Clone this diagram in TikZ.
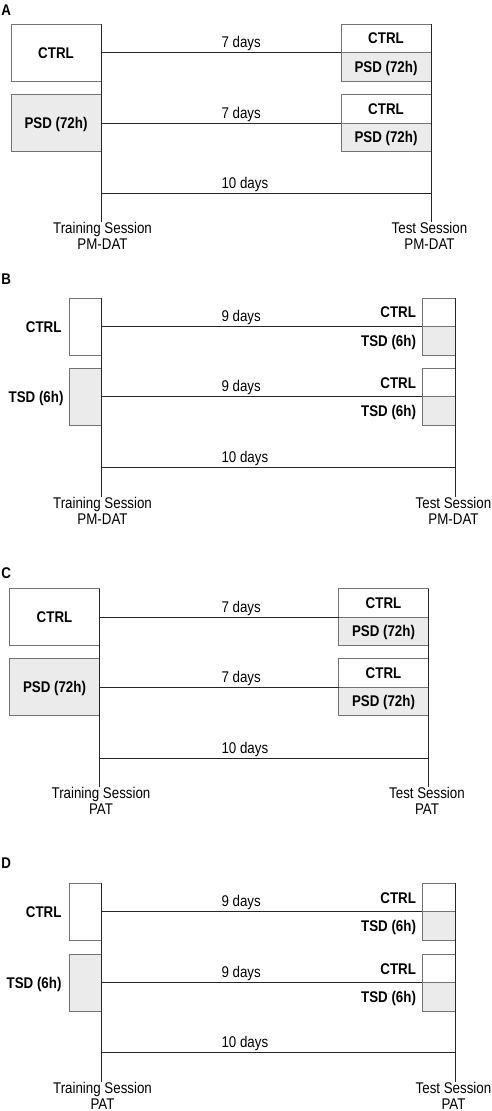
\documentclass[tikz,border=0pt]{standalone}
\usepackage{fontspec}
\setmainfont{Liberation Sans}[FakeStretch=0.86]
\usepackage{xcolor}
\usepackage{tikz}
\usetikzlibrary{positioning}
\newcommand\figfont{\fontsize{15.5pt}{16pt}\selectfont}

\begin{document}
\begin{tikzpicture}[x=1pt, y=-1pt, line width=1pt,
    box/.style={draw=black!55, inner sep=0pt, outer sep=0pt, text height=11pt, text depth=0pt, font=\figfont\bfseries},
    psd/.style={box, fill=black!8},
    wide/.style={minimum width=90pt, minimum height=57pt},
    half/.style={minimum width=90pt, minimum height=28.5pt},
    narrow/.style={minimum width=32pt, minimum height=57pt},
    slim/.style={minimum width=33pt, minimum height=28.5pt},
    grp/.style={inner sep=0pt, text height=11pt, text depth=0pt, font=\figfont\bfseries},
    panel/.style={grp, anchor=west},
    link/.style={draw=black!85},
    days/.style={inner sep=0pt, anchor=base west, font=\figfont},
    session/.style={inner sep=0pt, align=center, anchor=north, font=\figfont}]
    \useasboundingbox (0,0) rectangle (492,1111);
    \node[panel] (labA) at (1,9.5) {A};
    \node[box, wide, anchor=north west] (ctrlA) at (11,24) {CTRL};
    \node[psd, wide, anchor=north west] (psdA) at (11,94.5) {PSD (72h)};
    \node[box, half, anchor=north west] (ctrlA1) at (341,24) {CTRL};
    \node[psd, half, below=0pt of ctrlA1] (psdA1) {PSD (72h)};
    \node[box, half, anchor=north west] (ctrlA2) at (341,94.5) {CTRL};
    \node[psd, half, below=0pt of ctrlA2] (psdA2) {PSD (72h)};
    \node[session] (trainA) at (102.5,222) {Training Session\\PM-DAT};
    \node[session] (testA) at (429.5,222) {Test Session\\PM-DAT};
    \coordinate (tenA) at (101,193);
    \draw[link] (ctrlA.north east) -- (ctrlA.north east |- trainA.north);
    \draw[link] (ctrlA1.north east) -- (ctrlA1.north east |- testA.north);
    \draw[link] (ctrlA.east) -- (psdA1.north west);
    \draw[link] (psdA.east) -- (psdA2.north west);
    \draw[link] (tenA) -- (tenA -| ctrlA1.east);
    \node[days] (dayA1) at (221,47.5) {7 days};
    \node[days] (dayA2) at (221,118) {7 days};
    \node[days] (dayA3) at (221,188) {10 days};
    \node[panel] (labB) at (1,278.5) {B};
    \node[box, narrow, anchor=north west] (ctrlB) at (69,298) {};
    \node[psd, narrow, anchor=north west] (tsdB) at (69,368.3) {};
    \node[grp, left=7pt of ctrlB] (ctrlBt) {CTRL};
    \node[grp, left=5pt of tsdB] (tsdBt) {TSD (6h)};
    \node[box, slim, anchor=north west] (ctrlB1) at (422,298) {};
    \node[psd, slim, below=0pt of ctrlB1] (tsdB1) {};
    \node[box, slim, anchor=north west] (ctrlB2) at (422,368.3) {};
    \node[psd, slim, below=0pt of ctrlB2] (tsdB2) {};
    \node[grp, left=5.5pt of ctrlB1] (ctrlB1t) {CTRL};
    \node[grp, left=5.5pt of tsdB1] (tsdB1t) {TSD (6h)};
    \node[grp, left=5.5pt of ctrlB2] (ctrlB2t) {CTRL};
    \node[grp, left=5.5pt of tsdB2] (tsdB2t) {TSD (6h)};
    \node[session] (trainB) at (102.5,496.5) {Training Session\\PM-DAT};
    \node[session] (testB) at (453.5,496.5) {Test Session\\PM-DAT};
    \coordinate (tenB) at (101,467.3);
    \draw[link] (ctrlB.north east) -- (ctrlB.north east |- trainB.north);
    \draw[link] (ctrlB1.north east) -- (ctrlB1.north east |- testB.north);
    \draw[link] (ctrlB.east) -- (tsdB1.north west);
    \draw[link] (tsdB.east) -- (tsdB2.north west);
    \draw[link] (tenB) -- (tenB -| ctrlB1.east);
    \node[days] (dayB1) at (221,321.5) {9 days};
    \node[days] (dayB2) at (221,391.8) {9 days};
    \node[days] (dayB3) at (221,462.3) {10 days};
    \node[panel] (labC) at (1,572.5) {C};
    \node[box, wide, anchor=north west] (ctrlC) at (9.5,588.5) {CTRL};
    \node[psd, wide, anchor=north west] (psdC) at (9.5,658.5) {PSD (72h)};
    \node[box, half, anchor=north west] (ctrlC1) at (338.5,588.5) {CTRL};
    \node[psd, half, below=0pt of ctrlC1] (psdC1) {PSD (72h)};
    \node[box, half, anchor=north west] (ctrlC2) at (338.5,658.5) {CTRL};
    \node[psd, half, below=0pt of ctrlC2] (psdC2) {PSD (72h)};
    \node[session] (trainC) at (101,787) {Training Session\\PAT};
    \node[session] (testC) at (427,787) {Test Session\\PAT};
    \coordinate (tenC) at (99.5,758);
    \draw[link] (ctrlC.north east) -- (ctrlC.north east |- trainC.north);
    \draw[link] (ctrlC1.north east) -- (ctrlC1.north east |- testC.north);
    \draw[link] (ctrlC.east) -- (psdC1.north west);
    \draw[link] (psdC.east) -- (psdC2.north west);
    \draw[link] (tenC) -- (tenC -| ctrlC1.east);
    \node[days] (dayC1) at (221,612) {7 days};
    \node[days] (dayC2) at (221,682) {7 days};
    \node[days] (dayC3) at (221,753) {10 days};
    \node[panel] (labD) at (1,863) {D};
    \node[box, narrow, anchor=north west] (ctrlD) at (69,883.3) {};
    \node[psd, narrow, anchor=north west] (tsdD) at (69,954.3) {};
    \node[grp, left=7pt of ctrlD] (ctrlDt) {CTRL};
    \node[grp, left=7pt of tsdD] (tsdDt) {TSD (6h)};
    \node[box, slim, anchor=north west] (ctrlD1) at (422,883.3) {};
    \node[psd, slim, below=0pt of ctrlD1] (tsdD1) {};
    \node[box, slim, anchor=north west] (ctrlD2) at (422,954.3) {};
    \node[psd, slim, below=0pt of ctrlD2] (tsdD2) {};
    \node[grp, left=5.5pt of ctrlD1] (ctrlD1t) {CTRL};
    \node[grp, left=5.5pt of tsdD1] (tsdD1t) {TSD (6h)};
    \node[grp, left=5.5pt of ctrlD2] (ctrlD2t) {CTRL};
    \node[grp, left=5.5pt of tsdD2] (tsdD2t) {TSD (6h)};
    \node[session] (trainD) at (102.5,1082) {Training Session\\PAT};
    \node[session] (testD) at (453.5,1082) {Test Session\\PAT};
    \coordinate (tenD) at (101,1052.7);
    \draw[link] (ctrlD.north east) -- (ctrlD.north east |- trainD.north);
    \draw[link] (ctrlD1.north east) -- (ctrlD1.north east |- testD.north);
    \draw[link] (ctrlD.east) -- (tsdD1.north west);
    \draw[link] (tsdD.east) -- (tsdD2.north west);
    \draw[link] (tenD) -- (tenD -| ctrlD1.east);
    \node[days] (dayD1) at (221,906.8) {9 days};
    \node[days] (dayD2) at (221,977.8) {9 days};
    \node[days] (dayD3) at (221,1047.7) {10 days};
\end{tikzpicture}
\end{document}
